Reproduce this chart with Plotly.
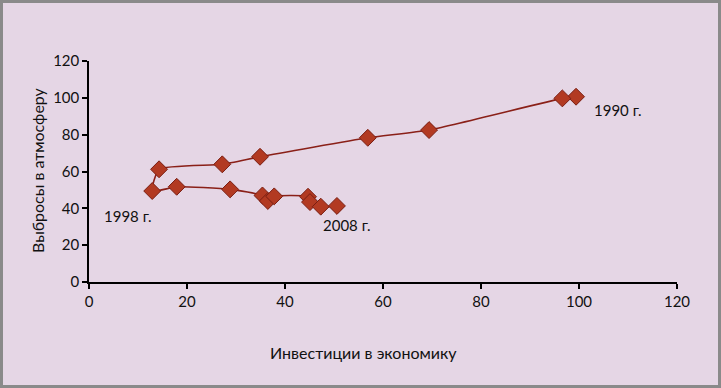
import plotly.graph_objects as go

# Investments (x) and emissions (y), 1990 -> 2008
invest = [99.4, 96.6, 69.4, 56.9, 34.9, 27.2, 14.3, 12.9, 17.9, 28.8, 35.4, 36.5, 37.8, 44.7, 45.1, 47.3, 50.6]
emiss = [100.6, 99.7, 82.5, 78.3, 68.0, 63.9, 61.2, 49.4, 51.7, 50.3, 47.0, 44.0, 46.5, 46.3, 43.4, 40.9, 41.3]

x_ticks = [0, 20, 40, 60, 80, 100, 120]
y_ticks = [0, 20, 40, 60, 80, 100, 120]

labels = ["1990 г.", "1998 г.", "2008 г."]
label_x = [102.7, 2.7, 47.3]
label_y = [93.4, 35.8, 30.9]

bg = "#E5D6E5"
font = "Lato"

fig = go.Figure()
fig.add_trace(go.Scatter(
    x=invest, y=emiss, mode="lines+markers",
    line=dict(color="#8A2018", width=1.6, shape="spline", smoothing=0.5),
    marker=dict(symbol="diamond", size=13, color="#B23A22",
                line=dict(color="#7A1E12", width=1)),
    showlegend=False, hoverinfo="skip",
))

for t, lx, ly in zip(labels, label_x, label_y):
    fig.add_annotation(x=lx, y=ly, text=t, showarrow=False, xanchor="left",
                       yanchor="middle", font=dict(family=font, size=15, color="#111"))

fig.add_annotation(xref="paper", yref="paper", x=(363 - 89) / 588, y=(282 - 352) / 221,
                   text="Инвестиции в экономику", showarrow=False,
                   xanchor="center", yanchor="middle",
                   font=dict(family=font, size=16, color="#111"))
fig.add_annotation(xref="paper", yref="paper", x=(37 - 89) / 588, y=(282 - 170) / 221,
                   text="Выбросы в атмосферу", showarrow=False, textangle=-90,
                   xanchor="center", yanchor="middle",
                   font=dict(family=font, size=16, color="#111"))

fig.add_shape(type="rect", xref="paper", yref="paper",
              x0=(1.5 - 89) / 588, x1=(719.5 - 89) / 588,
              y0=(282 - 386.5) / 221, y1=(282 - 1.5) / 221,
              line=dict(color="#8A8A8A", width=3), layer="below")

axis_common = dict(showgrid=False, zeroline=False, showline=True, linecolor="#000",
                   linewidth=1.5, ticks="outside", ticklen=5, tickcolor="#000",
                   tickwidth=1.5, tickfont=dict(family=font, size=15, color="#111"))

fig.update_xaxes(range=[0, 120], tickvals=x_ticks, **axis_common)
fig.update_yaxes(range=[0, 120], tickvals=y_ticks, **axis_common)

fig.update_layout(
    width=721, height=388,
    margin=dict(l=89, r=44, t=61, b=106),
    paper_bgcolor=bg, plot_bgcolor=bg,
)

fig.write_html("out.html", config={"displayModeBar": False},
               post_script="document.body.style.margin='0';document.body.style.overflow='hidden';")
